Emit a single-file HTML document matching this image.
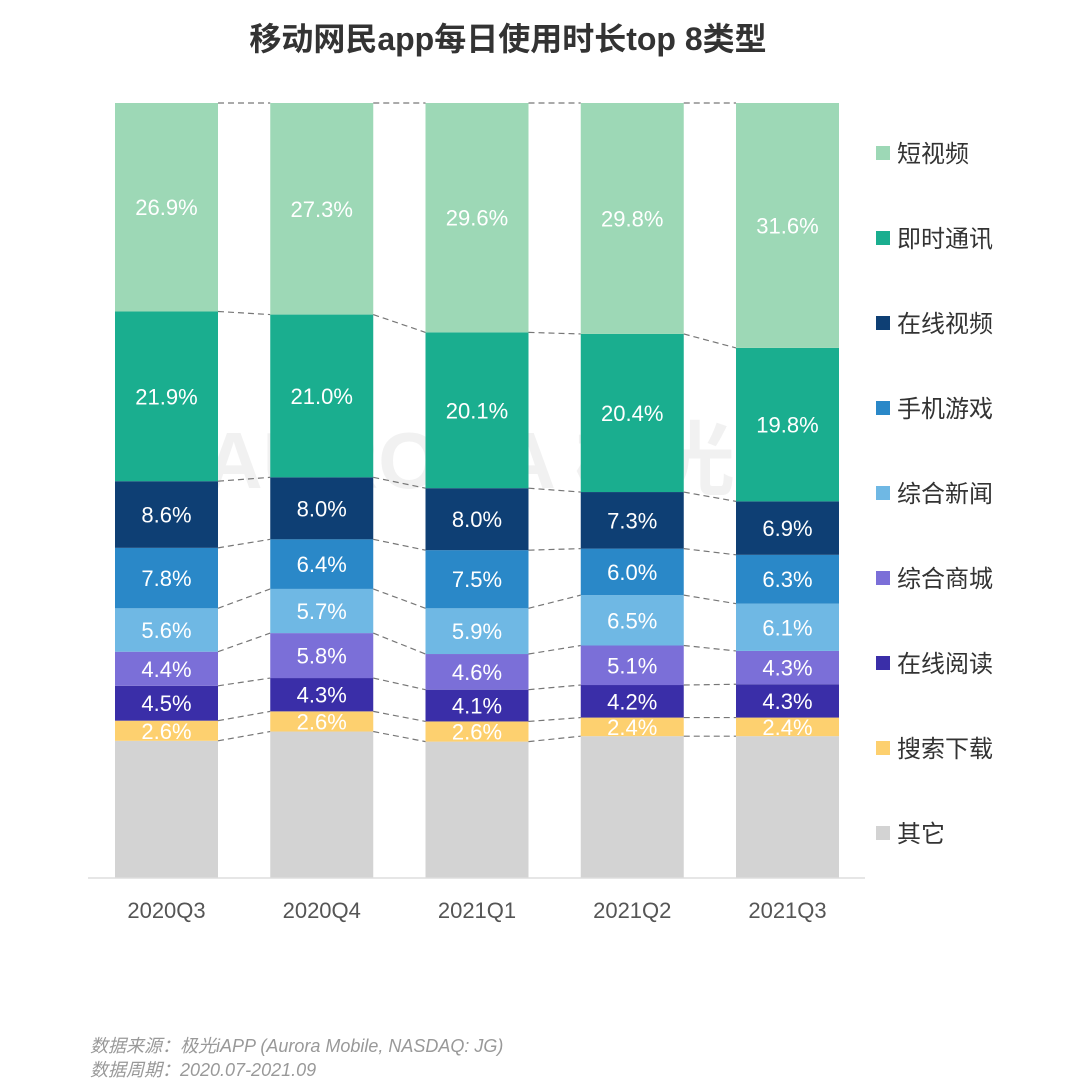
<!DOCTYPE html>
<html><head><meta charset="utf-8"><style>
body{margin:0;background:#fff;width:1080px;height:1087px;overflow:hidden;font-family:"Liberation Sans","Noto Sans CJK SC",sans-serif}
</style></head><body>
<svg id="chart" width="1080" height="1087" xmlns="http://www.w3.org/2000/svg" font-family="Liberation Sans, Noto Sans CJK SC, sans-serif">
<text x="508" y="50" text-anchor="middle" font-size="32" font-weight="bold" fill="#333">移动网民app每日使用时长top 8类型</text>
<text x="470" y="488" text-anchor="middle" font-size="80" font-weight="bold" fill="#000" opacity="0.05">AURORA 极光</text>
<g id="marks"></g>
<line x1="88" y1="878" x2="865" y2="878" stroke="#ddd" stroke-width="1.5"/>
<text x="90" y="1052" font-size="18" font-style="italic" fill="#999">数据来源：极光iAPP (Aurora Mobile, NASDAQ: JG)</text>
<text x="90" y="1076" font-size="18" font-style="italic" fill="#999">数据周期：2020.07-2021.09</text>
</svg>
<script>
const categories=["2020Q3","2020Q4","2021Q1","2021Q2","2021Q3"];
const seriesNames=["其它","搜索下载","在线阅读","综合商城","综合新闻","手机游戏","在线视频","即时通讯","短视频"];
const searchDl=[2.6,2.6,2.6,2.4,2.4];
const reading=[4.5,4.3,4.1,4.2,4.3];
const mall=[4.4,5.8,4.6,5.1,4.3];
const news=[5.6,5.7,5.9,6.5,6.1];
const games=[7.8,6.4,7.5,6.0,6.3];
const onlineVideo=[8.6,8.0,8.0,7.3,6.9];
const im=[21.9,21.0,20.1,20.4,19.8];
const shortVideo=[26.9,27.3,29.6,29.8,31.6];
const colors=["#d3d3d3","#fdd06f","#3a2ea8","#7b6fd8","#6fb8e4","#2a88c8","#0e3f74","#1aae8f","#9dd8b6"];
const slugs=["other","search-download","online-reading","mall","news","games","online-video","im","short-video"];
const known=[searchDl,reading,mall,news,games,onlineVideo,im,shortVideo];
const other=categories.map((c,i)=>100-known.reduce((s,a)=>s+a[i],0));
const series=[other,...known];
const ns="http://www.w3.org/2000/svg";
const g=document.getElementById('marks');
const plotTop=103,plotBot=878,x0=115,step=155.25,bw=103;
const y=v=>plotBot-v/100*(plotBot-plotTop);
const xb=i=>x0+i*step;
function mk(t,a){const e=document.createElementNS(ns,t);for(const k in a)e.setAttribute(k,a[k]);return e;}
const bounds=categories.map((c,i)=>{let acc=0;const b=[0];series.forEach(s=>{acc+=s[i];b.push(acc);});return b;});
categories.forEach((c,i)=>{
  series.forEach((s,k)=>{
    const y1=y(bounds[i][k+1]),y0=y(bounds[i][k]);
    const r=mk('rect',{x:xb(i),y:y1,width:bw,height:y0-y1,fill:colors[k]});
    
    
    g.appendChild(r);
    if(k>0){
      const t=mk('text',{x:xb(i)+bw/2,y:(y0+y1)/2+8,'text-anchor':'middle','font-size':22,fill:'#fff'});
      
      
      t.textContent=s[i].toFixed(1)+'%';g.appendChild(t);
    }
  });
  const t=mk('text',{x:xb(i)+bw/2,y:918,'text-anchor':'middle','font-size':22,fill:'#555'});
  
  
  t.textContent=c;g.appendChild(t);
  if(i<categories.length-1){
    for(let k=1;k<=series.length;k++){
      const l=mk('line',{x1:xb(i)+bw,y1:y(bounds[i][k]),x2:xb(i+1),y2:y(bounds[i+1][k]),stroke:'#777','stroke-width':1.2,'stroke-dasharray':'6,4'});
      
      
      g.appendChild(l);
    }
  }
});
for(let k=series.length-1,j=0;k>=0;k--,j++){
  const cy=153+j*85;
  const r=mk('rect',{x:876,y:cy-7,width:14,height:14,fill:colors[k]});
  
  
  g.appendChild(r);
  const t=mk('text',{x:897,y:cy+9,'font-size':24,fill:'#333'});
  
  
  t.textContent=seriesNames[k];g.appendChild(t);
}
</script>
</body></html>
